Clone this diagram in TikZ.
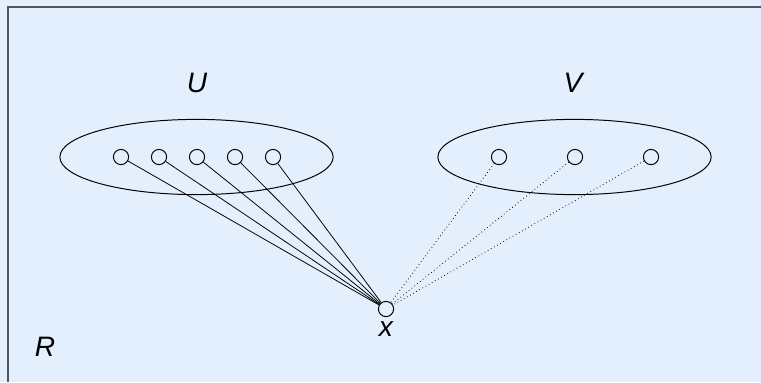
\documentclass[tikz,border=0pt]{standalone}
\usepackage{fontspec}
\setmainfont{Liberation Sans}
\usepackage{tikz}
\usetikzlibrary{shapes.geometric, positioning}
\definecolor{regionfill}{HTML}{E3EFFC}
\definecolor{regionline}{HTML}{50565C}

\begin{document}
\begin{tikzpicture}[
    x=0.025cm, y=-0.025cm,
    set_node/.style={ellipse, draw, line width=0.7pt, minimum width=6.83cm, minimum height=1.88cm, inner sep=0pt},
    vertex_node/.style={circle, draw, line width=0.7pt, minimum size=0.38cm, inner sep=0pt},
    name_node/.style={font=\fontsize{20}{24}\selectfont\itshape, inner sep=0pt},
    edge_line/.style={line width=0.55pt},
    nonedge_line/.style={line width=0.55pt, dotted}
]

\useasboundingbox[fill=regionfill] (0,0) rectangle (761,382);
\draw[regionline, line width=1.4pt] (8,382) |- (761,7);

% Sets
\node[set_node] (setU) at (196.5,157) {};
\node[set_node] (setV) at (574.5,157) {};
\node[name_node] (nameU) at (197,83) {U};
\node[name_node] (nameV) at (573,83) {V};
\node[name_node] (nameR) at (45,347) {R};

% Vertices of U
\node[vertex_node] (u1) at (121,157) {};
\node[vertex_node] (u2) at (159,157) {};
\node[vertex_node] (u3) at (197,157) {};
\node[vertex_node] (u4) at (235,157) {};
\node[vertex_node] (u5) at (273,157) {};

% Vertices of V
\node[vertex_node] (v1) at (499,157) {};
\node[vertex_node] (v2) at (575,157) {};
\node[vertex_node] (v3) at (651,157) {};

% Outside vertex
\node[vertex_node] (x) at (386,309) {};
\node[name_node] (namex) at (386,329.5) {x};

% Connections
\draw[edge_line] (u1) -- (x);
\draw[edge_line] (u2) -- (x);
\draw[edge_line] (u3) -- (x);
\draw[edge_line] (u4) -- (x);
\draw[edge_line] (u5) -- (x);
\draw[nonedge_line] (v1) -- (x);
\draw[nonedge_line] (v2) -- (x);
\draw[nonedge_line] (v3) -- (x);

\end{tikzpicture}
\end{document}
